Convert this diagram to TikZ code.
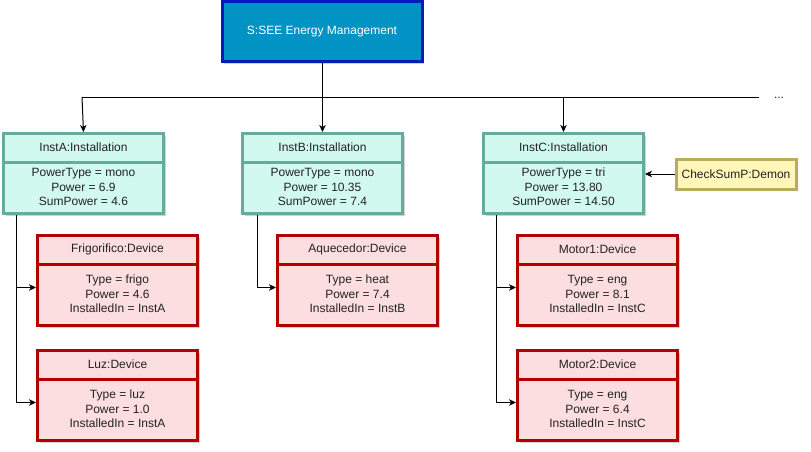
\documentclass[tikz,border=0pt]{standalone}
\usepackage{fontspec}
\setmainfont{Liberation Sans}
\usetikzlibrary{arrows.meta,calc,shadows}
\definecolor{topF}{HTML}{0093C4}
\definecolor{topE}{HTML}{001DBC}
\definecolor{instF}{HTML}{D2F9F0}
\definecolor{instE}{HTML}{67AB9F}
\definecolor{devF}{HTML}{FCDEE0}
\definecolor{devE}{HTML}{B20000}
\definecolor{demF}{HTML}{FFF6BA}
\definecolor{demE}{HTML}{B8AD5C}
\definecolor{txt}{HTML}{222222}
\tikzset{
  myshadow/.style={drop shadow={shadow xshift=2pt, shadow yshift=-2pt, opacity=0.18, fill=black}},
  txtnode/.style={font=\fontsize{12}{14.5}\selectfont, text=txt, align=center, inner sep=0pt},
  topbox/.style={draw=topE, fill=topF, line width=3pt, minimum width=200pt, minimum height=60pt, inner sep=0pt,
     font=\fontsize{12}{14.5}\selectfont, text=white, myshadow},
  instbox/.style={draw=instE, fill=instF, line width=3pt, minimum width=160pt, minimum height=80pt, inner sep=0pt, anchor=north west, myshadow},
  instsep/.style={draw=instE, line width=3pt},
  devbox/.style={draw=devE, fill=devF, line width=3pt, minimum width=160pt, minimum height=90pt, inner sep=0pt, anchor=north west, myshadow},
  devsep/.style={draw=devE, line width=3pt},
  dembox/.style={draw=demE, fill=demF, line width=3pt, minimum width=120pt, minimum height=30pt, inner sep=0pt,
     font=\fontsize{12}{14.5}\selectfont, text=txt, myshadow},
  conn/.style={draw=black, line width=1pt},
  arr/.style={conn, -{Stealth[length=7pt,width=6.5pt,inset=2pt]}},
}
\begin{document}
\begin{tikzpicture}[x=1pt,y=-1pt]
\useasboundingbox (0,0) rectangle (811,452);

% top node
\node[topbox] (S) at (322,32) {S:SEE Energy Management};

% installations
\node[instbox] (A) at (2,132) {};
\draw[instsep] ($(A.north west)+(0,30)$) -- ($(A.north east)+(0,30)$);
\node[txtnode] (At) at ($(A.north)+(0,15)$) {InstA:Installation};
\node[txtnode] (Ab) at ($(A.north)+(0,55)$) {PowerType = mono\\Power = 6.9\\SumPower = 4.6};

\node[instbox] (B) at (241,132) {};
\draw[instsep] ($(B.north west)+(0,30)$) -- ($(B.north east)+(0,30)$);
\node[txtnode] (Bt) at ($(B.north)+(0,15)$) {InstB:Installation};
\node[txtnode] (Bb) at ($(B.north)+(0,55)$) {PowerType = mono\\Power = 10.35\\SumPower = 7.4};

\node[instbox] (C) at (482,132) {};
\draw[instsep] ($(C.north west)+(0,30)$) -- ($(C.north east)+(0,30)$);
\node[txtnode] (Ct) at ($(C.north)+(0,15)$) {InstC:Installation};
\node[txtnode] (Cb) at ($(C.north)+(0,55)$) {PowerType = tri\\Power = 13.80\\SumPower = 14.50};

% devices
\node[devbox] (F) at (36,234) {};
\draw[devsep] ($(F.north west)+(0,30)$) -- ($(F.north east)+(0,30)$);
\node[txtnode] (Ft) at ($(F.north)+(0,15)$) {Frigorifico:Device};
\node[txtnode] (Fb) at ($(F.north)+(0,60)$) {Type = frigo\\Power = 4.6\\InstalledIn = InstA};

\node[devbox] (L) at (36,349) {};
\draw[devsep] ($(L.north west)+(0,30)$) -- ($(L.north east)+(0,30)$);
\node[txtnode] (Lt) at ($(L.north)+(0,15)$) {Luz:Device};
\node[txtnode] (Lb) at ($(L.north)+(0,60)$) {Type = luz\\Power = 1.0\\InstalledIn = InstA};

\node[devbox] (Q) at (276,234) {};
\draw[devsep] ($(Q.north west)+(0,30)$) -- ($(Q.north east)+(0,30)$);
\node[txtnode] (Qt) at ($(Q.north)+(0,15)$) {Aquecedor:Device};
\node[txtnode] (Qb) at ($(Q.north)+(0,60)$) {Type = heat\\Power = 7.4\\InstalledIn = InstB};

\node[devbox] (M1) at (516,234) {};
\draw[devsep] ($(M1.north west)+(0,30)$) -- ($(M1.north east)+(0,30)$);
\node[txtnode] (M1t) at ($(M1.north)+(0,15)$) {Motor1:Device};
\node[txtnode] (M1b) at ($(M1.north)+(0,60)$) {Type = eng\\Power = 8.1\\InstalledIn = InstC};

\node[devbox] (M2) at (516,349) {};
\draw[devsep] ($(M2.north west)+(0,30)$) -- ($(M2.north east)+(0,30)$);
\node[txtnode] (M2t) at ($(M2.north)+(0,15)$) {Motor2:Device};
\node[txtnode] (M2b) at ($(M2.north)+(0,60)$) {Type = eng\\Power = 6.4\\InstalledIn = InstC};

% demon
\node[dembox] (D) at (736,174) {CheckSumP:Demon};

% bus
\coordinate (busL) at (82,97);
\coordinate (busR) at (759,97);
\node[txtnode, anchor=base] (dots) at (779,98) {...};
\draw[conn] (S.south) -- (S.south |- busL);
\draw[conn] (busL) -- (busR);
\draw[arr] (busL) -- (A.north);
\draw[arr] (B.north |- busL) -- (B.north);
\draw[arr] (C.north |- busL) -- (C.north);

% installation -> devices
\coordinate (As) at ($(A.south west)+(14,0)$);
\draw[arr] (As) |- ($(F.west)+(0,7)$);
\draw[arr] (As) |- ($(L.west)+(0,7)$);
\coordinate (Bs) at ($(B.south west)+(16,0)$);
\draw[arr] (Bs) |- ($(Q.west)+(0,7)$);
\coordinate (Cs) at ($(C.south west)+(14,0)$);
\draw[arr] (Cs) |- ($(M1.west)+(0,7)$);
\draw[arr] (Cs) |- ($(M2.west)+(0,7)$);

% demon -> InstC
\draw[arr] (D.west) -- (C.east |- D.west);
\end{tikzpicture}
\end{document}
